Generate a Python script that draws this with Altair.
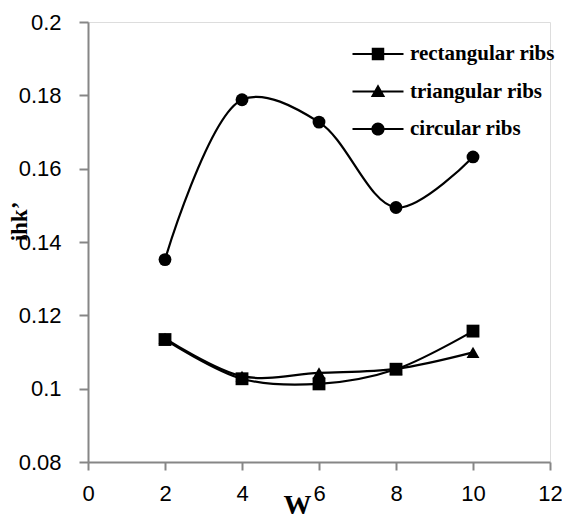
import altair as alt
import pandas as pd

# ---- data ----
w_values = [2, 4, 6, 8, 10]
rectangular = [0.1134, 0.1027, 0.1013, 0.1053, 0.1157]
triangular = [0.1137, 0.1034, 0.1043, 0.1054, 0.1099]
circular = [0.1352, 0.1788, 0.1727, 0.1494, 0.1632]
series_names = ["rectangular ribs", "triangular ribs", "circular ribs"]
x_ticks = [0, 2, 4, 6, 8, 10, 12]
y_ticks = [0.08, 0.1, 0.12, 0.14, 0.16, 0.18, 0.2]

rows = []
for name, vals in zip(series_names, [rectangular, triangular, circular]):
    for w, v in zip(w_values, vals):
        rows.append({"W": w, "value": v, "series": name})
df = pd.DataFrame(rows)

AXIS_GRAY = "#868686"

x_enc = alt.X(
    "W:Q",
    scale=alt.Scale(domain=[0, 12], nice=False, zero=False),
    axis=alt.Axis(
        values=x_ticks, title="W", grid=False,
        domainColor=AXIS_GRAY, domainWidth=2, tickColor=AXIS_GRAY, tickWidth=2,
        tickSize=8, labelPadding=13, labelFont="Liberation Sans", labelFontSize=22,
        labelColor="#000000", labelFlush=False,
        titleFont="Liberation Serif", titleFontSize=28, titleFontWeight="bold",
        titleX=209, titleY=51, titleAnchor="start", titleAlign="center", titleBaseline="alphabetic",
        titleColor="#000000", zindex=1,
    ),
)
y_enc = alt.Y(
    "value:Q",
    scale=alt.Scale(domain=[0.08, 0.2], nice=False, zero=False),
    axis=alt.Axis(
        values=y_ticks, format=".2~f", title="ihk\u2019", grid=False,
        domainColor=AXIS_GRAY, domainWidth=2, tickColor=AXIS_GRAY, tickWidth=2,
        tickSize=9, labelPadding=18, labelFont="Liberation Sans", labelFontSize=22,
        labelColor="#000000", labelFlush=False,
        titleFont="Liberation Serif", titleFontSize=23, titleFontWeight="bold",
        titleX=-62, titleY=199, titleAngle=270, titleAlign="center", titleBaseline="alphabetic",
        titleColor="#000000", zindex=1,
    ),
)

base = alt.Chart(df)

lines = base.mark_line(color="black", strokeWidth=2.2, interpolate="catmull-rom").encode(
    x=x_enc, y=y_enc, detail="series:N"
)

points = base.mark_point(filled=True, color="black", opacity=1, size=165).encode(
    x=x_enc, y=y_enc,
    shape=alt.Shape(
        "series:N",
        scale=alt.Scale(domain=series_names, range=["square", "triangle-up", "circle"]),
        legend=None,
    ),
)

# legend glyphs: a short line (thin bar) with the series marker on it
BAR = "M-2.125,-0.085L2.125,-0.085L2.125,0.085L-2.125,0.085Z"
legend_paths = [
    BAR + "M-0.52,-0.52L0.52,-0.52L0.52,0.52L-0.52,0.52Z",
    BAR + "M0,-0.6L0.6,0.45L-0.6,0.45Z",
    BAR + "M0.55,0A0.55,0.55,0,1,1,-0.55,0A0.55,0.55,0,1,1,0.55,0Z",
]

legend_layer = base.transform_filter("false").mark_point(
    filled=True, color="black", opacity=1
).encode(
    x=x_enc, y=y_enc,
    shape=alt.Shape(
        "series:N",
        scale=alt.Scale(domain=series_names, range=legend_paths),
        legend=alt.Legend(
            title=None, orient="none", legendX=278, legendY=20, padding=0,
            symbolSize=576, symbolStrokeWidth=0, symbolFillColor="black",
            symbolOpacity=1,
            labelFont="Liberation Serif", labelFontSize=21, labelFontWeight="bold",
            labelColor="#000000", labelLimit=300, labelOffset=20, rowPadding=15.5,
        ),
    ),
)

chart = (
    alt.layer(lines, points, legend_layer)
    .resolve_scale(shape="independent")
    .properties(
        width=462, height=440,
        autosize=alt.AutoSizeParams(type="none"),
        padding={"left": 80, "top": 14, "right": 12, "bottom": 52},
    )
    .configure_view(stroke="black", strokeWidth=1.5)
    .configure(background="white")
)

chart.save("out.html", embed_options={"renderer": "svg", "actions": False})
